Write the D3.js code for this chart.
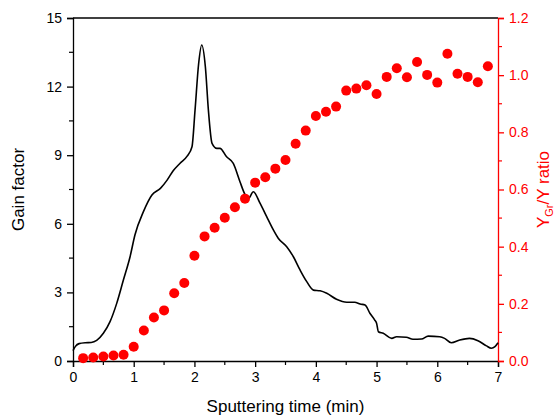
<!DOCTYPE html>
<html>
<head>
<meta charset="utf-8">
<script src="https://cdn.jsdelivr.net/npm/d3@7"></script>
<style>
  body { margin: 0; background: #fff; }
  text { font-family: "Liberation Sans", Arial, sans-serif; }
</style>
</head>
<body>
<div id="chart"></div>
<script>
// gain factor curve (time in min, gain)
const gainTime = [0, 0.04, 0.1, 0.2, 0.3, 0.39, 0.5, 0.61, 0.72, 0.83, 0.94, 1.02, 1.16, 1.3, 1.44, 1.55, 1.65, 1.76, 1.88, 1.96, 2.01, 2.07, 2.12, 2.18, 2.23, 2.29, 2.37, 2.42, 2.53, 2.64, 2.75, 2.83, 2.89, 2.97, 3.08, 3.19, 3.3, 3.38, 3.52, 3.63, 3.74, 3.85, 3.96, 4.07, 4.18, 4.34, 4.51, 4.64, 4.73, 4.81, 4.89, 4.97, 5.0, 5.03, 5.11, 5.25, 5.33, 5.49, 5.6, 5.74, 5.85, 6.04, 6.12, 6.23, 6.37, 6.53, 6.67, 6.81, 6.89, 6.95, 7.0];
const gainValue = [0.45, 0.64, 0.76, 0.8, 0.81, 0.9, 1.21, 1.72, 2.52, 3.54, 4.56, 5.51, 6.53, 7.26, 7.55, 7.91, 8.32, 8.64, 8.96, 9.37, 10.97, 13.02, 13.82, 12.87, 10.97, 9.52, 9.3, 9.3, 8.93, 8.64, 7.84, 7.3, 7.11, 7.4, 6.9, 6.31, 5.73, 5.37, 5.0, 4.56, 3.98, 3.47, 3.1, 3.07, 2.96, 2.7, 2.57, 2.57, 2.49, 2.45, 2.09, 1.79, 1.65, 1.28, 1.21, 0.99, 1.06, 1.04, 0.95, 0.96, 1.09, 1.06, 0.99, 0.8, 0.92, 0.99, 0.89, 0.66, 0.56, 0.63, 0.8];

// Y_Gr/Y ratio, one point every 10 s (1/6 min)
const ratioTime = [0.167, 0.333, 0.5, 0.667, 0.833, 1.0, 1.167, 1.333, 1.5, 1.667, 1.833, 2.0, 2.167, 2.333, 2.5, 2.667, 2.833, 3.0, 3.167, 3.333, 3.5, 3.667, 3.833, 4.0, 4.167, 4.333, 4.5, 4.667, 4.833, 5.0, 5.167, 5.333, 5.5, 5.667, 5.833, 6.0, 6.167, 6.333, 6.5, 6.667, 6.833];
const ratioValue = [0.01, 0.012, 0.016, 0.019, 0.022, 0.05, 0.107, 0.152, 0.177, 0.237, 0.273, 0.368, 0.436, 0.466, 0.501, 0.538, 0.568, 0.624, 0.643, 0.673, 0.703, 0.76, 0.806, 0.857, 0.872, 0.89, 0.946, 0.953, 0.965, 0.934, 0.994, 1.024, 0.993, 1.046, 1.001, 0.974, 1.075, 1.005, 0.994, 0.975, 1.031];

const xTicks = [0, 1, 2, 3, 4, 5, 6, 7];
const gainTicks = [0, 3, 6, 9, 12, 15];
const ratioTicks = [0, 0.2, 0.4, 0.6, 0.8, 1.0, 1.2];

const width = 555, height = 416;
const margin = { top: 18, right: 57, bottom: 55, left: 73 };
const red = "#ff0000";

const svg = d3.select("#chart").append("svg")
  .attr("width", width)
  .attr("height", height);

const x = d3.scaleLinear().domain([0, 7]).range([margin.left, width - margin.right]);
const y = d3.scaleLinear().domain([0, 15]).range([height - margin.bottom, margin.top]);
const yR = d3.scaleLinear().domain([0, 1.2]).range([height - margin.bottom, margin.top]);

const plotBottom = height - margin.bottom;

// top frame line
svg.append("line")
  .attr("x1", x(0)).attr("x2", x(7))
  .attr("y1", margin.top).attr("y2", margin.top)
  .attr("stroke", "#000").attr("stroke-width", 1.3);

function styleAxis(g, color) {
  g.select(".domain").attr("stroke", color).attr("stroke-width", 1.3);
  g.selectAll(".tick line").attr("stroke", color).attr("stroke-width", 1.3);
  g.selectAll(".tick text")
    .attr("fill", color)
    .style("font-size", "14px")
    .style("font-family", "'Liberation Sans', Arial, sans-serif");
}

// minor ticks
function minor(scale, vals, orient, pos, color) {
  svg.append("g").selectAll("line").data(vals).join("line")
    .attr("stroke", color).attr("stroke-width", 1.2)
    .each(function (d) {
      const l = d3.select(this);
      if (orient === "bottom") l.attr("x1", scale(d)).attr("x2", scale(d)).attr("y1", pos).attr("y2", pos + 4);
      if (orient === "left") l.attr("y1", scale(d)).attr("y2", scale(d)).attr("x1", pos).attr("x2", pos - 4);
      if (orient === "right") l.attr("y1", scale(d)).attr("y2", scale(d)).attr("x1", pos).attr("x2", pos + 4);
    });
}
minor(x, d3.range(0.5, 7, 1), "bottom", plotBottom, "#000");
minor(y, d3.range(1.5, 15, 3), "left", x(0), "#000");
minor(yR, d3.range(0.1, 1.2, 0.2), "right", x(7), red);

const gx = svg.append("g")
  .attr("transform", `translate(0,${plotBottom})`)
  .call(d3.axisBottom(x).tickValues(xTicks).tickSize(6).tickPadding(5).tickFormat(d3.format("d")));
styleAxis(gx, "#000");

const gy = svg.append("g")
  .attr("transform", `translate(${x(0)},0)`)
  .call(d3.axisLeft(y).tickValues(gainTicks).tickSize(6).tickPadding(5).tickFormat(d3.format("d")));
styleAxis(gy, "#000");

const gyR = svg.append("g")
  .attr("transform", `translate(${x(7)},0)`)
  .call(d3.axisRight(yR).tickValues(ratioTicks).tickSize(6).tickPadding(5).tickFormat(d3.format(".1f")));
styleAxis(gyR, red);

// gain curve
const gainData = gainTime.map((t, i) => ({ t, v: gainValue[i] }));
svg.append("path")
  .datum(gainData)
  .attr("fill", "none")
  .attr("stroke", "#000")
  .attr("stroke-width", 1.6)
  .attr("stroke-linejoin", "round")
  .attr("d", d3.line().x(d => x(d.t)).y(d => y(d.v)).curve(d3.curveMonotoneX));

// ratio points
const ratioData = ratioTime.map((t, i) => ({ t, v: ratioValue[i] }));
svg.append("g").selectAll("circle")
  .data(ratioData)
  .join("circle")
  .attr("cx", d => x(d.t))
  .attr("cy", d => yR(d.v))
  .attr("r", 5)
  .attr("fill", red);

// axis titles
svg.append("text")
  .attr("x", (x(0) + x(7)) / 2)
  .attr("y", 412)
  .attr("text-anchor", "middle")
  .style("font-size", "17px")
  .text("Sputtering time (min)");

svg.append("text")
  .attr("transform", `translate(24,${(margin.top + plotBottom) / 2}) rotate(-90)`)
  .attr("text-anchor", "middle")
  .style("font-size", "17px")
  .text("Gain factor");

const rt = svg.append("text")
  .attr("transform", `translate(549,${(margin.top + plotBottom) / 2}) rotate(-90)`)
  .attr("text-anchor", "middle")
  .attr("fill", red)
  .style("font-size", "17px");
rt.append("tspan").text("Y");
rt.append("tspan").attr("dy", 4).style("font-size", "11px").text("Gr");
rt.append("tspan").attr("dy", -4).text("/Y ratio");
</script>
</body>
</html>
